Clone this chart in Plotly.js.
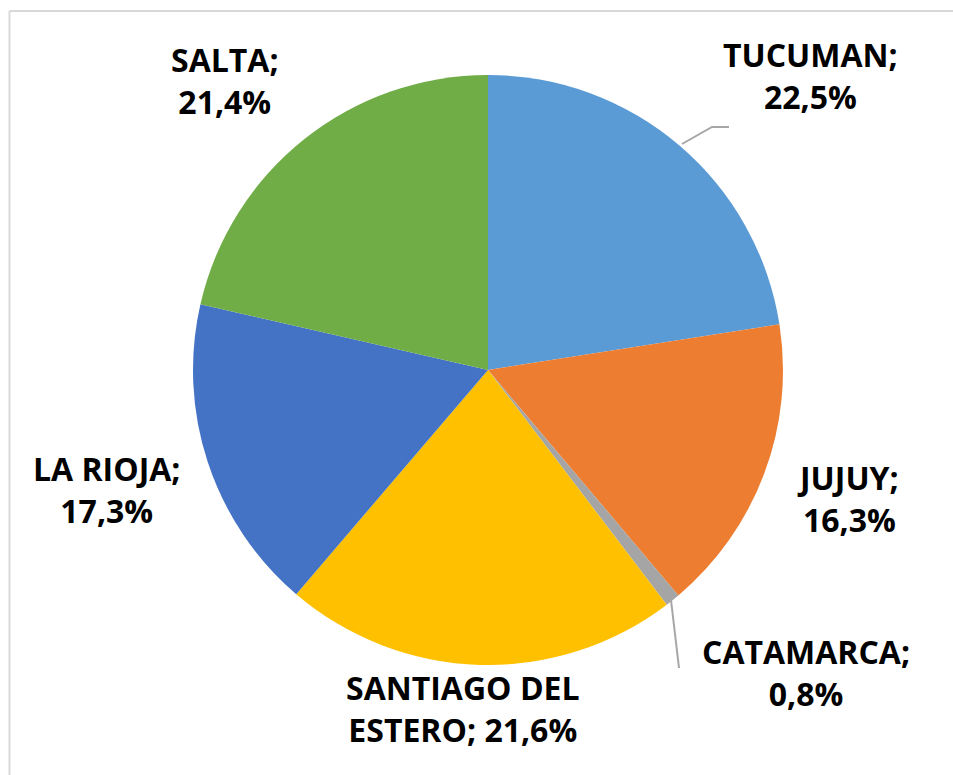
<!DOCTYPE html>
<html>
<head>
<meta charset="utf-8">
<script src="https://cdn.plot.ly/plotly-3.0.1.min.js"></script>
<style>
  html, body { margin: 0; padding: 0; background: #ffffff; }
  #chart { width: 953px; height: 775px; }
</style>
</head>
<body>
<div id="chart"></div>
<script>
// ---- data ----
const categories = ['TUCUMAN', 'JUJUY', 'CATAMARCA', 'SANTIAGO DEL<br>ESTERO', 'LA RIOJA', 'SALTA'];
const values = [22.5, 16.3, 0.8, 21.6, 17.3, 21.4];
const separators = ['<br>', '<br>', '<br>', ' ', '<br>', '<br>'];
const colors = ['#5B9BD5', '#ED7D31', '#A5A5A5', '#FFC000', '#4472C4', '#70AD47'];

// ---- layout helpers (pixel -> paper, margins are zero) ----
const W = 953, H = 775;
const px = x => x / W;
const py = y => 1 - y / H;

const labelPos = [
  [810, 76],   // TUCUMAN
  [848, 498],  // JUJUY
  [806, 672],  // CATAMARCA
  [463, 708],  // SANTIAGO DEL ESTERO
  [106, 490],  // LA RIOJA
  [225, 81]    // SALTA
];

const fmt = v => v.toFixed(1).replace('.', ',') + '%';

const annotations = categories.map((c, i) => ({
  text: c + ';' + separators[i] + fmt(values[i]),
  x: px(labelPos[i][0]), y: py(labelPos[i][1]),
  xref: 'paper', yref: 'paper',
  xanchor: 'center', yanchor: 'middle',
  showarrow: false, align: 'center',
  font: { family: 'Open Sans, sans-serif', size: 32, color: '#000000', weight: 'bold' }
}));

const cx = 488, cy = 370, r = 295;

const trace = {
  type: 'pie',
  labels: categories,
  values: values,
  sort: false,
  direction: 'clockwise',
  rotation: 0,
  textinfo: 'none',
  hoverinfo: 'label+percent',
  marker: { colors: colors, line: { color: '#ffffff', width: 0 } },
  domain: { x: [px(cx - r), px(cx + r)], y: [py(cy + r), py(cy - r)] },
  showlegend: false
};

const lineStyle = { color: '#A6A6A6', width: 2 };
const frameStyle = { color: '#D9D9D9', width: 2 };

const shapes = [
  // chart frame (top and left edges visible)
  { type: 'line', xref: 'paper', yref: 'paper', x0: px(9.5), y0: py(11), x1: 1, y1: py(11), line: frameStyle },
  { type: 'line', xref: 'paper', yref: 'paper', x0: px(9.5), y0: py(11), x1: px(9.5), y1: 0, line: frameStyle },
  // leader line for TUCUMAN
  { type: 'path', xref: 'paper', yref: 'paper',
    path: 'M ' + px(682) + ' ' + py(144) + ' L ' + px(712) + ' ' + py(127) + ' L ' + px(729) + ' ' + py(127),
    line: lineStyle },
  // leader line for CATAMARCA
  { type: 'line', xref: 'paper', yref: 'paper', x0: px(671), y0: py(600), x1: px(679), y1: py(668), line: lineStyle }
];

const layout = {
  width: W, height: H,
  margin: { l: 0, r: 0, t: 0, b: 0 },
  paper_bgcolor: '#ffffff',
  plot_bgcolor: '#ffffff',
  annotations: annotations,
  shapes: shapes,
  showlegend: false
};

Plotly.newPlot('chart', [trace], layout, { displayModeBar: false, staticPlot: true });
</script>
</body>
</html>
